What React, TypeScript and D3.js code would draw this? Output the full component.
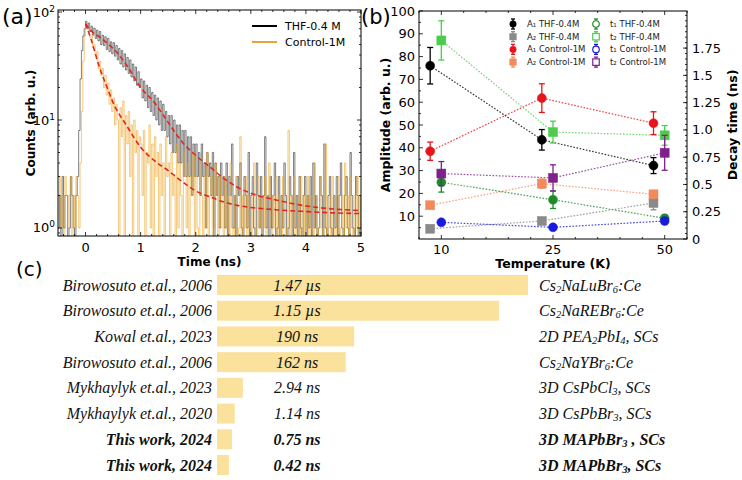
import React, { useRef, useEffect } from "react";
import * as d3 from "d3";

// (a) PL decay histograms, 25 ps bins starting at -0.5 ns
const binStart = -0.5;
const binWidth = 0.025;
const countsTHF = [
  1, 2, 0, 3, 1, 2, 2, 0, 1, 3, 2, 1, 0, 2, 3, 8, 24, 44, 60, 70,
  82, 70, 79, 66, 74, 61, 71, 57, 68, 54, 66, 50, 61, 49, 59, 45, 57, 43, 53, 41,
  52, 39, 49, 36, 46, 33, 44, 31, 41, 29, 38, 27, 36, 25, 33, 23, 31, 21, 28, 20,
  24, 16, 23, 15, 21, 13, 20, 12, 18, 11, 17, 10, 16, 9, 15, 8, 14, 8, 12, 7,
  11, 6, 11, 5, 10, 5, 9, 4, 9, 4, 8, 3, 8, 3, 7, 3, 7, 2, 6, 3,
  6, 3, 5, 2, 6, 3, 4, 1, 5, 3, 4, 2, 5, 0, 4, 2, 3, 1, 4, 2,
  3, 1, 4, 0, 3, 2, 6, 1, 2, 0, 3, 2, 4, 1, 0, 3, 2, 1, 5, 0,
  2, 3, 1, 0, 4, 2, 1, 3, 0, 2, 7, 1, 2, 0, 3, 1, 2, 4, 0, 1,
  3, 0, 2, 1, 4, 2, 0, 1, 3, 2, 0, 5, 1, 2, 0, 3, 1, 0, 2, 3,
  0, 2, 1, 3, 0, 4, 1, 2, 0, 1, 3, 2, 0, 6, 1, 0, 2, 3, 1, 0,
  2, 1, 3, 0, 2, 4, 1, 0, 2, 3, 1, 0, 5, 2, 1, 0, 3, 2, 0, 1,
  2,
];
const countsControl = [
  2, 3, 1, 2, 0, 3, 2, 1, 2, 3, 0, 2, 1, 3, 2, 1, 4, 12, 35, 60,
  78, 70, 66, 58, 60, 47, 50, 40, 43, 30, 35, 26, 30, 20, 26, 17, 22, 14, 19, 12,
  16, 9, 14, 10, 0, 13, 7, 15, 0, 11, 6, 12, 3, 9, 0, 10, 5, 8, 0, 7,
  6, 2, 8, 0, 5, 4, 9, 1, 6, 0, 7, 3, 5, 0, 6, 2, 4, 0, 7, 3,
  4, 0, 5, 2, 3, 0, 6, 1, 4, 2, 0, 5, 3, 1, 4, 0, 3, 2, 5, 0,
  3, 1, 0, 4, 2, 0, 3, 1, 5, 0, 2, 3, 0, 1, 4, 2, 0, 3, 1, 2,
  0, 3, 1, 2, 0, 4, 1, 0, 2, 3, 0, 1, 7, 0, 2, 1, 3, 0, 2, 1,
  0, 2, 4, 1, 0, 3, 1, 2, 0, 1, 3, 0, 2, 4, 1, 0, 2, 1, 3, 0,
  2, 1, 0, 3, 2, 0, 1, 8, 0, 2, 1, 3, 0, 1, 2, 0, 3, 1, 0, 2,
  1, 3, 0, 2, 1, 0, 4, 2, 0, 1, 3, 1, 0, 2, 6, 0, 1, 2, 0, 3,
  1, 0, 2, 3, 0, 1, 2, 0, 4, 1, 2, 0, 3, 1, 0, 2, 1, 3, 0, 2,
  1,
];

// fitted decay curves, sampled
const fitTimes = [0, 0.1, 0.25, 0.4, 0.5, 0.75, 1.0, 1.25, 1.5, 1.75, 2.0, 2.25, 2.5, 2.75, 3.0, 3.5, 4.0, 4.5, 5.0];
const fitTHF = [78, 67, 59, 51, 46, 32, 20, 14.5, 9.5, 6.3, 4.7, 3.7, 2.9, 2.4, 2.1, 1.8, 1.6, 1.5, 1.45];
const fitControl = [78, 56, 31, 19.5, 14.5, 8.8, 5.6, 4.2, 3.4, 2.7, 2.2, 1.95, 1.75, 1.62, 1.55, 1.47, 1.42, 1.38, 1.36];

// (b) fit parameters vs temperature
const temperatures = ["10", "25", "50"];
const a1THF = [76, 43.5, 32.2];
const a1THFErr = [8, 4.5, 3.5];
const a2THF = [4.5, 7.9, 15.8];
const a2THFErr = [0.8, 1.5, 3];
const a1Control = [38.5, 61.8, 50.8];
const a1ControlErr = [4, 6.3, 5];
const a2Control = [14.8, 24.3, 19.6];
const a2ControlErr = [1, 2, 1.5];
const t1THF = [0.52, 0.36, 0.19];
const t1THFErr = [0.09, 0.08, 0.03];
const t2THF = [1.82, 0.98, 0.95];
const t2THFErr = [0.18, 0.1, 0.09];
const t1Control = [0.153, 0.107, 0.165];
const t1ControlErr = [0.02, 0.012, 0.02];
const t2Control = [0.6, 0.56, 0.79];
const t2ControlErr = [0.11, 0.12, 0.16];
const tauTicks = [0, 0.25, 0.5, 0.75, 1.0, 1.25, 1.5, 1.75];
const tauTickLabels = ["0", "0.25", "0.5", "0.75", "1.0", "1.25", "1.5", "1.75"];

// (c) scintillation decay time comparison
const references = [
  "Birowosuto et.al., 2006",
  "Birowosuto et.al., 2006",
  "Kowal et.al., 2023",
  "Birowosuto et.al., 2006",
  "Mykhaylyk et.al., 2023",
  "Mykhaylyk et.al., 2020",
  "This work, 2024",
  "This work, 2024",
];
const materials = [
  "Cs_2NaLuBr_6:Ce",
  "Cs_2NaREBr_6:Ce",
  "2D PEA_2PbI_4, SCs",
  "Cs_2NaYBr_6:Ce",
  "3D CsPbCl_3, SCs",
  "3D CsPbBr_3, SCs",
  "3D MAPbBr_3 , SCs",
  "3D MAPbBr_3, SCs",
];
const lifetimesNs = [1470, 1150, 190, 162, 2.94, 1.14, 0.75, 0.42];
const lifetimeLabels = ["1.47 µs", "1.15 µs", "190 ns", "162 ns", "2.94 ns", "1.14 ns", "0.75 ns", "0.42 ns"];

const sans = "'DejaVu Sans', sans-serif";
const serif = "'Liberation Serif', 'Times New Roman', serif";

function tick(g, x1, y1, x2, y2) {
  g.append("line")
    .attr("x1", x1).attr("y1", y1).attr("x2", x2).attr("y2", y2)
    .attr("stroke", "#000").attr("stroke-width", 0.8);
}

function drawDecay(svg) {
  const left = 58, right = 361, top = 10, bottom = 236;
  const x = d3.scaleLinear().domain([-0.5, 5]).range([left, right]);
  const y = d3.scaleLog().domain([0.843, 104.4]).range([bottom, top]);
  const g = svg.append("g");

  g.append("clipPath").attr("id", "clip-a")
    .append("rect").attr("x", left).attr("y", top)
    .attr("width", right - left).attr("height", bottom - top);

  const trace = d3.line()
    .x((d, i) => x(binStart + i * binWidth))
    .y((d) => y(Math.max(d, 0.5)))
    .curve(d3.curveStepAfter);

  const plot = g.append("g").attr("clip-path", "url(#clip-a)");
  plot.append("path").datum(countsTHF).attr("d", trace)
    .attr("fill", "none").attr("stroke", "#151515")
    .attr("stroke-width", 0.9).attr("stroke-opacity", 0.6);
  plot.append("path").datum(countsControl).attr("d", trace)
    .attr("fill", "none").attr("stroke", "#eea21c")
    .attr("stroke-width", 0.9).attr("stroke-opacity", 0.65);

  const fit = d3.line()
    .x((d, i) => x(fitTimes[i]))
    .y((d) => y(d))
    .curve(d3.curveMonotoneX);
  [fitControl, fitTHF].forEach((f) => {
    plot.append("path").datum(f).attr("d", fit)
      .attr("fill", "none").attr("stroke", "#e3261c")
      .attr("stroke-width", 1.6).attr("stroke-dasharray", "5,3");
  });

  g.append("rect").attr("x", left).attr("y", top)
    .attr("width", right - left).attr("height", bottom - top)
    .attr("fill", "none").attr("stroke", "#000").attr("stroke-width", 1);

  // x ticks
  d3.range(-0.4, 5.001, 0.2).forEach((t) => {
    const major = Math.abs(t - Math.round(t)) < 1e-6;
    const len = major ? 4 : 2;
    tick(g, x(t), bottom, x(t), bottom - len);
    tick(g, x(t), top, x(t), top + len);
    if (major) {
      g.append("text").attr("x", x(t)).attr("y", 252)
        .attr("text-anchor", "middle").attr("font-family", sans).attr("font-size", 13)
        .text(Math.round(t));
    }
  });

  // log y ticks
  const minor = [0.9, 2, 3, 4, 5, 6, 7, 8, 9, 20, 30, 40, 50, 60, 70, 80, 90];
  minor.forEach((v) => {
    tick(g, left, y(v), left + 2, y(v));
    tick(g, right, y(v), right - 2, y(v));
  });
  [1, 10, 100].forEach((v, i) => {
    tick(g, left, y(v), left + 4, y(v));
    tick(g, right, y(v), right - 4, y(v));
    const t = g.append("text").attr("x", 55).attr("y", y(v) + 4.5)
      .attr("text-anchor", "end").attr("font-family", sans).attr("font-size", 13);
    t.append("tspan").text("10");
    t.append("tspan").attr("dy", -5).attr("font-size", 9).text(i);
  });

  g.append("text").attr("x", (left + right) / 2).attr("y", 266)
    .attr("text-anchor", "middle").attr("font-family", sans)
    .attr("font-size", 12).attr("font-weight", "bold").text("Time (ns)");
  g.append("text").attr("transform", `translate(35, ${(top + bottom) / 2}) rotate(-90)`)
    .attr("text-anchor", "middle").attr("font-family", sans)
    .attr("font-size", 12).attr("font-weight", "bold").text("Counts (arb. u.)");

  // legend
  const legend = [
    { name: "THF-0.4 M", color: "#000" },
    { name: "Control-1M", color: "#e8a33a" },
  ];
  legend.forEach((d, i) => {
    const ly = 26 + i * 16;
    g.append("line").attr("x1", 252).attr("x2", 277).attr("y1", ly).attr("y2", ly)
      .attr("stroke", d.color).attr("stroke-width", 2);
    g.append("text").attr("x", 285).attr("y", ly + 4).attr("font-family", sans)
      .attr("font-size", 11).text(d.name);
  });

  g.append("text").attr("x", 2).attr("y", 24).attr("font-family", sans)
    .attr("font-size", 22).text("(a)");
}

function drawTemperature(svg) {
  const left = 419, right = 687, top = 11, bottom = 239;
  const x = d3.scaleLinear().domain([-0.2, 2.2]).range([left, right]);
  const yAmp = d3.scaleLinear().domain([0, 100]).range([bottom, top]);
  const yTau = d3.scaleLinear().domain([0, 2.09]).range([bottom, top]);
  const g = svg.append("g");

  const series = [
    { label: "A₁ THF-0.4M", v: a1THF, e: a1THFErr, y: yAmp, dx: -0.1, shape: "circle", color: "#000000" },
    { label: "A₂ THF-0.4M", v: a2THF, e: a2THFErr, y: yAmp, dx: -0.1, shape: "square", color: "#8a8a8a" },
    { label: "A₁ Control-1M", v: a1Control, e: a1ControlErr, y: yAmp, dx: -0.1, shape: "circle", color: "#e8141c" },
    { label: "A₂ Control-1M", v: a2Control, e: a2ControlErr, y: yAmp, dx: -0.1, shape: "square", color: "#f28a5c" },
    { label: "t₁ THF-0.4M", v: t1THF, e: t1THFErr, y: yTau, dx: 0, shape: "circle", color: "#1f8a2a" },
    { label: "t₂ THF-0.4M", v: t2THF, e: t2THFErr, y: yTau, dx: 0, shape: "square", color: "#4ccc4c" },
    { label: "t₁ Control-1M", v: t1Control, e: t1ControlErr, y: yTau, dx: 0, shape: "circle", color: "#1a1adb" },
    { label: "t₂ Control-1M", v: t2Control, e: t2ControlErr, y: yTau, dx: 0, shape: "square", color: "#80208c" },
  ];

  const marker = (sel, s, cx, cy, size, hollow) => {
    const m = s.shape === "circle"
      ? sel.append("circle").attr("cx", cx).attr("cy", cy).attr("r", size / 2)
      : sel.append("rect").attr("x", cx - size / 2).attr("y", cy - size / 2)
          .attr("width", size).attr("height", size);
    m.attr("fill", hollow ? "#fff" : s.color).attr("stroke", s.color).attr("stroke-width", hollow ? 1.2 : 0.5);
  };
  const errorBar = (sel, s, cx, y1, y2, cap) => {
    sel.append("line").attr("x1", cx).attr("x2", cx).attr("y1", y1).attr("y2", y2)
      .attr("stroke", s.color).attr("stroke-width", 1.3);
    [y1, y2].forEach((yy) => sel.append("line").attr("x1", cx - cap).attr("x2", cx + cap)
      .attr("y1", yy).attr("y2", yy).attr("stroke", s.color).attr("stroke-width", 1.3));
  };

  const link = (s) => d3.line().x((d, i) => x(i + s.dx)).y((d) => s.y(d));
  series.forEach((s) => {
    g.append("path").datum(s.v).attr("d", link(s))
      .attr("fill", "none").attr("stroke", s.color).attr("stroke-opacity", 0.8)
      .attr("stroke-width", 1.2).attr("stroke-dasharray", "1.6,1.6");
  });
  series.forEach((s) => {
    s.v.forEach((v, i) => {
      const cx = x(i + s.dx);
      errorBar(g, s, cx, s.y(v + s.e[i]), s.y(v - s.e[i]), 3);
      marker(g, s, cx, s.y(v), 9, false);
    });
  });

  g.append("rect").attr("x", left).attr("y", top)
    .attr("width", right - left).attr("height", bottom - top)
    .attr("fill", "none").attr("stroke", "#000").attr("stroke-width", 1);

  // x ticks
  d3.range(-0.2, 2.2001, 0.2).forEach((t) => {
    const major = Math.abs(t - Math.round(t)) < 1e-6;
    const len = major ? 4 : 2;
    tick(g, x(t), bottom, x(t), bottom - len);
    tick(g, x(t), top, x(t), top + len);
  });
  temperatures.forEach((lab, i) => {
    g.append("text").attr("x", x(i)).attr("y", 254)
      .attr("text-anchor", "middle").attr("font-family", sans).attr("font-size", 13).text(lab);
  });

  // amplitude axis
  d3.range(5, 100, 10).forEach((v) => tick(g, left, yAmp(v), left + 2, yAmp(v)));
  d3.range(10, 101, 10).forEach((v) => {
    tick(g, left, yAmp(v), left + 4, yAmp(v));
    g.append("text").attr("x", 415).attr("y", yAmp(v) + 4.5)
      .attr("text-anchor", "end").attr("font-family", sans).attr("font-size", 13).text(v);
  });
  // decay time axis
  d3.range(0.05, 2.09, 0.05).forEach((v) => tick(g, right, yTau(v), right - 2, yTau(v)));
  tauTicks.forEach((v, i) => {
    tick(g, right, yTau(v), right - 4, yTau(v));
    g.append("text").attr("x", 692).attr("y", yTau(v) + 4.5)
      .attr("font-family", sans).attr("font-size", 13).text(tauTickLabels[i]);
  });

  g.append("text").attr("x", x(1)).attr("y", 268)
    .attr("text-anchor", "middle").attr("font-family", sans)
    .attr("font-size", 12.5).attr("font-weight", "bold").text("Temperature (K)");
  g.append("text").attr("transform", `translate(389.5, ${(top + bottom) / 2}) rotate(-90)`)
    .attr("text-anchor", "middle").attr("font-family", sans)
    .attr("font-size", 12.5).attr("font-weight", "bold").text("Amplitude (arb. u.)");
  g.append("text").attr("transform", `translate(736.5, ${(top + bottom) / 2}) rotate(-90)`)
    .attr("text-anchor", "middle").attr("font-family", sans)
    .attr("font-size", 12.5).attr("font-weight", "bold").text("Decay time (ns)");

  // legend, two columns
  series.forEach((s, i) => {
    const col = Math.floor(i / 4);
    const row = i % 4;
    const mx = col === 0 ? 513 : 596;
    const my = 24 + row * 12.7;
    errorBar(g, s, mx, my - 5, my + 5, 2);
    marker(g, s, mx, my, 6.5, col === 1);
    g.append("text").attr("x", mx + 14).attr("y", my + 3)
      .attr("font-family", sans).attr("font-size", 8.5).attr("fill", "#222").text(s.label);
  });

  g.append("text").attr("x", 361).attr("y", 24).attr("font-family", sans)
    .attr("font-size", 21).text("(b)");
}

function drawComparison(svg) {
  const barLeft = 217;
  const width = d3.scalePow().exponent(0.4).domain([0, 1470]).range([0, 311]);
  const y = d3.scalePoint().domain(d3.range(references.length)).range([285, 465]);
  const g = svg.append("g");

  references.forEach((ref, i) => {
    const cy = y(i);
    const bold = ref.startsWith("This work");
    g.append("rect").attr("x", barLeft).attr("y", cy - 10)
      .attr("width", width(lifetimesNs[i])).attr("height", 20).attr("fill", "#fbe29c");

    const base = (sel) => sel.attr("font-family", serif).attr("font-style", "italic")
      .attr("font-size", 16).attr("font-weight", bold ? "bold" : "normal").attr("fill", "#111");

    base(g.append("text")).attr("x", 212).attr("y", cy + 5.5)
      .attr("text-anchor", "end").text(ref);
    base(g.append("text")).attr("x", 297).attr("y", cy + 5.5)
      .attr("text-anchor", "middle").text(lifetimeLabels[i]);

    const t = base(g.append("text")).attr("x", 539).attr("y", cy + 5.5);
    materials[i].split(/_(\d)/).forEach((part, k) => {
      if (!part) return;
      if (k % 2 === 1) {
        t.append("tspan").attr("font-size", 10.5).attr("dy", 2).text(part);
      } else {
        t.append("tspan").attr("dy", k > 0 ? -2 : 0).text(part);
      }
    });
  });

  g.append("text").attr("x", 16).attr("y", 276).attr("font-family", sans)
    .attr("font-size", 20).text("(c)");
}

function App() {
  const canvas = useRef(null);
  useEffect(() => {
    const svg = d3.select(canvas.current);
    svg.selectAll("*").remove();
    drawDecay(svg);
    drawTemperature(svg);
    drawComparison(svg);
  }, []);

  return (
    <svg
      ref={canvas}
      width={742}
      height={480}
      style={{ position: "absolute", left: 0, top: 0, background: "#fff" }}
    ></svg>
  );
}

export default App;
